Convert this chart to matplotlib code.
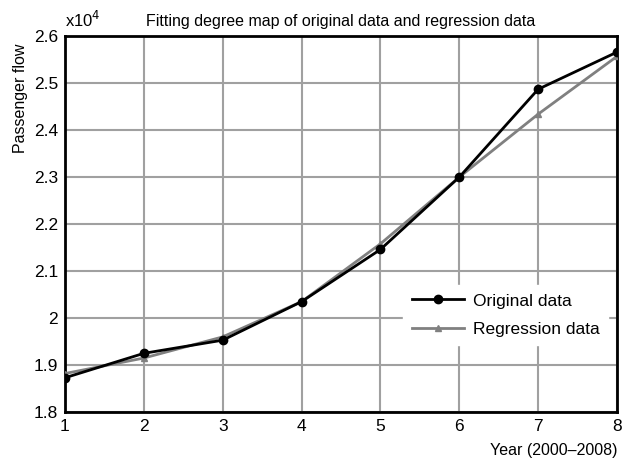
import matplotlib
matplotlib.use('Agg')
import matplotlib.pyplot as plt
from matplotlib import font_manager

# Data (values in units of 10^4)
years = [1, 2, 3, 4, 5, 6, 7, 8]
original = [1.873, 1.925, 1.953, 2.035, 2.146, 2.300, 2.487, 2.566]
regression = [1.882, 1.915, 1.960, 2.035, 2.158, 2.300, 2.434, 2.557]
y_ticks = [1.8, 1.9, 2.0, 2.1, 2.2, 2.3, 2.4, 2.5, 2.6]
y_tick_labels = ['1.8', '1.9', '2', '2.1', '2.2', '2.3', '2.4', '2.5', '2.6']

names = {f.name for f in font_manager.fontManager.ttflist}
fam = 'Liberation Sans Narrow' if 'Liberation Sans Narrow' in names else 'Liberation Sans'
plt.rcParams['font.family'] = [fam, 'DejaVu Sans']

fig = plt.figure(figsize=(6.22, 4.63), dpi=100)
ax = fig.add_axes([0.1045, 0.110, 0.8875, 0.812])

ax.plot(years, original, color='black', lw=2, marker='o', ms=6, label='Original data', zorder=4)
ax.plot(years, regression, color='#808080', lw=2, marker='^', ms=5, label='Regression data', zorder=3)

ax.set_xlim(1, 8)
ax.set_ylim(1.8, 2.6)
ax.set_xticks(years)
ax.set_yticks(y_ticks)
ax.set_yticklabels(y_tick_labels)
ax.tick_params(length=0, labelsize=12.5, pad=5)
ax.grid(True, color='#a0a0a0', lw=1.5)
ax.set_axisbelow(True)
for s in ax.spines.values():
    s.set_linewidth(2)

ax.set_title('Fitting degree map of original data and regression data', fontsize=11.5, pad=7)
ax.text(0.0, 1.015, r'x10$^4$', transform=ax.transAxes, fontsize=12, ha='left', va='bottom')
fig.text(0.033, 0.905, 'Passenger flow', rotation=90, fontsize=11.5, ha='center', va='top')
fig.text(0.993, 0.01, 'Year (2000\u20132008)', fontsize=11.5, ha='right', va='bottom')

leg = ax.legend(loc='center right', bbox_to_anchor=(1.0, 0.258), fontsize=12.5,
                frameon=True, fancybox=False, handlelength=3, borderpad=0.5,
                labelspacing=0.75, handletextpad=0.5)
leg.get_frame().set_facecolor('white')
leg.get_frame().set_edgecolor('white')
leg.get_frame().set_alpha(1)

fig.savefig('out.png', dpi=100)
